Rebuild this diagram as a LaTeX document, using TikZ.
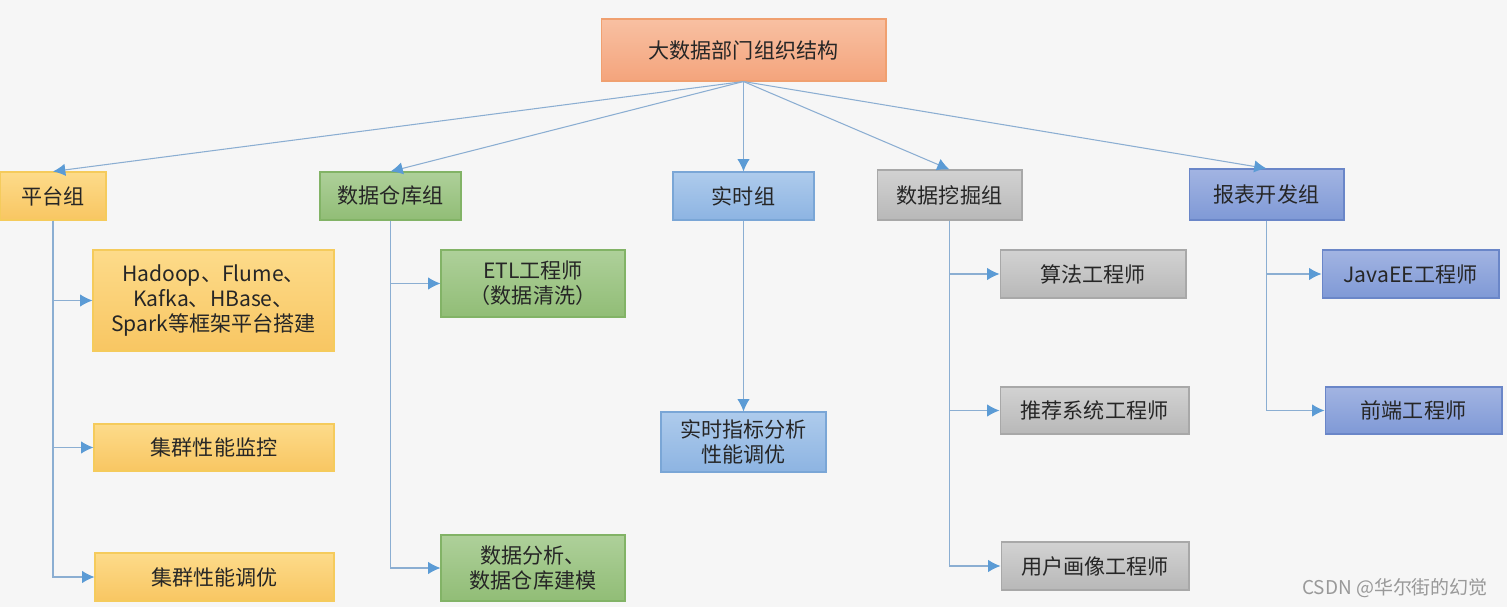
\documentclass[tikz,border=0pt]{standalone}
\usepackage{fontspec}
\newfontfamily\cjk{Noto Sans CJK SC}
\usepackage{tikz}
\usetikzlibrary{arrows.meta,positioning}
\definecolor{bgcol}{HTML}{F6F6F6}
\definecolor{linkcol}{HTML}{8BAED2}
\definecolor{tipcol}{HTML}{5B9BD5}
\definecolor{orangetop}{HTML}{F8C0A2}
\definecolor{orangebot}{HTML}{F4A47C}
\definecolor{orangeline}{HTML}{F0A070}
\definecolor{yellowtop}{HTML}{FDDB8A}
\definecolor{yellowbot}{HTML}{F8C662}
\definecolor{yellowline}{HTML}{F5CB5C}
\definecolor{greentop}{HTML}{AED09A}
\definecolor{greenbot}{HTML}{91BD76}
\definecolor{greenline}{HTML}{82B366}
\definecolor{bluetop}{HTML}{AECBEC}
\definecolor{bluebot}{HTML}{8DB4E2}
\definecolor{blueline}{HTML}{7AA6D6}
\definecolor{greytop}{HTML}{D2D2D2}
\definecolor{greybot}{HTML}{B8B8B8}
\definecolor{greyline}{HTML}{A8A8A8}
\definecolor{violettop}{HTML}{A2B4E2}
\definecolor{violetbot}{HTML}{7F99D6}
\definecolor{violetline}{HTML}{6A86C8}
\tikzset{>={Latex[length=7pt,width=7pt,color=tipcol]}}
\tikzset{
  box/.style={rectangle, inner sep=0pt, align=center, font=\cjk\fontsize{12pt}{14.2pt}\selectfont, text=black!85, line width=0.6pt},
  orangebox/.style={box, top color=orangetop, bottom color=orangebot, draw=orangeline},
  yellowbox/.style={box, top color=yellowtop, bottom color=yellowbot, draw=yellowline},
  greenbox/.style={box, top color=greentop, bottom color=greenbot, draw=greenline},
  bluebox/.style={box, top color=bluetop, bottom color=bluebot, draw=blueline},
  greybox/.style={box, top color=greytop, bottom color=greybot, draw=greyline},
  violetbox/.style={box, top color=violettop, bottom color=violetbot, draw=violetline},
  link/.style={->, draw=linkcol, line width=0.6pt}
}

\begin{document}
\begin{tikzpicture}[x=0.02cm, y=-0.02cm]
        \fill[bgcol] (0,0) rectangle (1507,607);
        \useasboundingbox (0,0) rectangle (1507,607);

        % root
        \node[orangebox, minimum width=5.7cm, minimum height=1.24cm] (root) at (743.5,50) {大数据部门组织结构};

        % groups
        \node[yellowbox, minimum width=2.12cm, minimum height=0.96cm] (pt) at (53,196) {平台组};
        \node[greenbox, minimum width=2.82cm, minimum height=0.96cm] (dw) at (390.5,196) {数据仓库组};
        \node[bluebox, minimum width=2.82cm, minimum height=0.96cm] (rt) at (743.5,196) {实时组};
        \node[greybox, minimum width=2.9cm, minimum height=1cm] (dm) at (949.5,195) {数据挖掘组};
        \node[violetbox, minimum width=3.1cm, minimum height=1.02cm] (rp) at (1266.5,194.5) {报表开发组};

        % platform
        \node[yellowbox, minimum width=4.82cm, minimum height=2.02cm] (ptA) at (213.5,300.5) {Hadoop、Flume、\\Kafka、HBase、\\Spark等框架平台搭建};
        \node[yellowbox, minimum width=4.8cm, minimum height=0.94cm] (ptB) at (214,447.5) {集群性能监控};
        \node[yellowbox, minimum width=4.78cm, minimum height=0.96cm] (ptC) at (214.5,577) {集群性能调优};

        % warehouse
        \node[greenbox, minimum width=3.68cm, minimum height=1.34cm] (dwA) at (533,283.5) {ETL工程师\\（数据清洗）};
        \node[greenbox, minimum width=3.68cm, minimum height=1.32cm] (dwB) at (533,568) {数据分析、\\数据仓库建模};

        % realtime
        \node[bluebox, minimum width=3.3cm, minimum height=1.2cm] (rtA) at (743.5,442) {实时指标分析\\性能调优};

        % mining
        \node[greybox, minimum width=3.72cm, minimum height=0.96cm] (dmA) at (1093,274) {算法工程师};
        \node[greybox, minimum width=3.78cm, minimum height=0.94cm] (dmB) at (1094.5,410.5) {推荐系统工程师};
        \node[greybox, minimum width=3.76cm, minimum height=0.96cm] (dmC) at (1095,566) {用户画像工程师};

        % report
        \node[violetbox, minimum width=3.54cm, minimum height=0.96cm] (rpA) at (1410.5,274) {JavaEE工程师};
        \node[violetbox, minimum width=3.54cm, minimum height=0.94cm] (rpB) at (1413.5,410.5) {前端工程师};

        % root to groups
        \foreach \g in {pt,dw,rt,dm,rp}
        {
        \draw[link] (root.south) -- (\g.north);
        }

        % groups to members
        \foreach \m in {ptA,ptB,ptC}
        {
        \draw[link] (pt.south) |- (\m.west);
        }
        \foreach \m in {dwA,dwB}
        {
        \draw[link] (dw.south) |- (\m.west);
        }
        \draw[link] (rt.south) -- (rtA.north);
        \foreach \m in {dmA,dmB,dmC}
        {
        \draw[link] (dm.south) |- (\m.west);
        }
        \foreach \m in {rpA,rpB}
        {
        \draw[link] (rp.south) |- (\m.west);
        }

        \node[font=\cjk\fontsize{10.8pt}{12pt}\selectfont, text=black!40] (mark) at (1395,588) {CSDN @华尔街的幻觉};
\end{tikzpicture}
\end{document}
